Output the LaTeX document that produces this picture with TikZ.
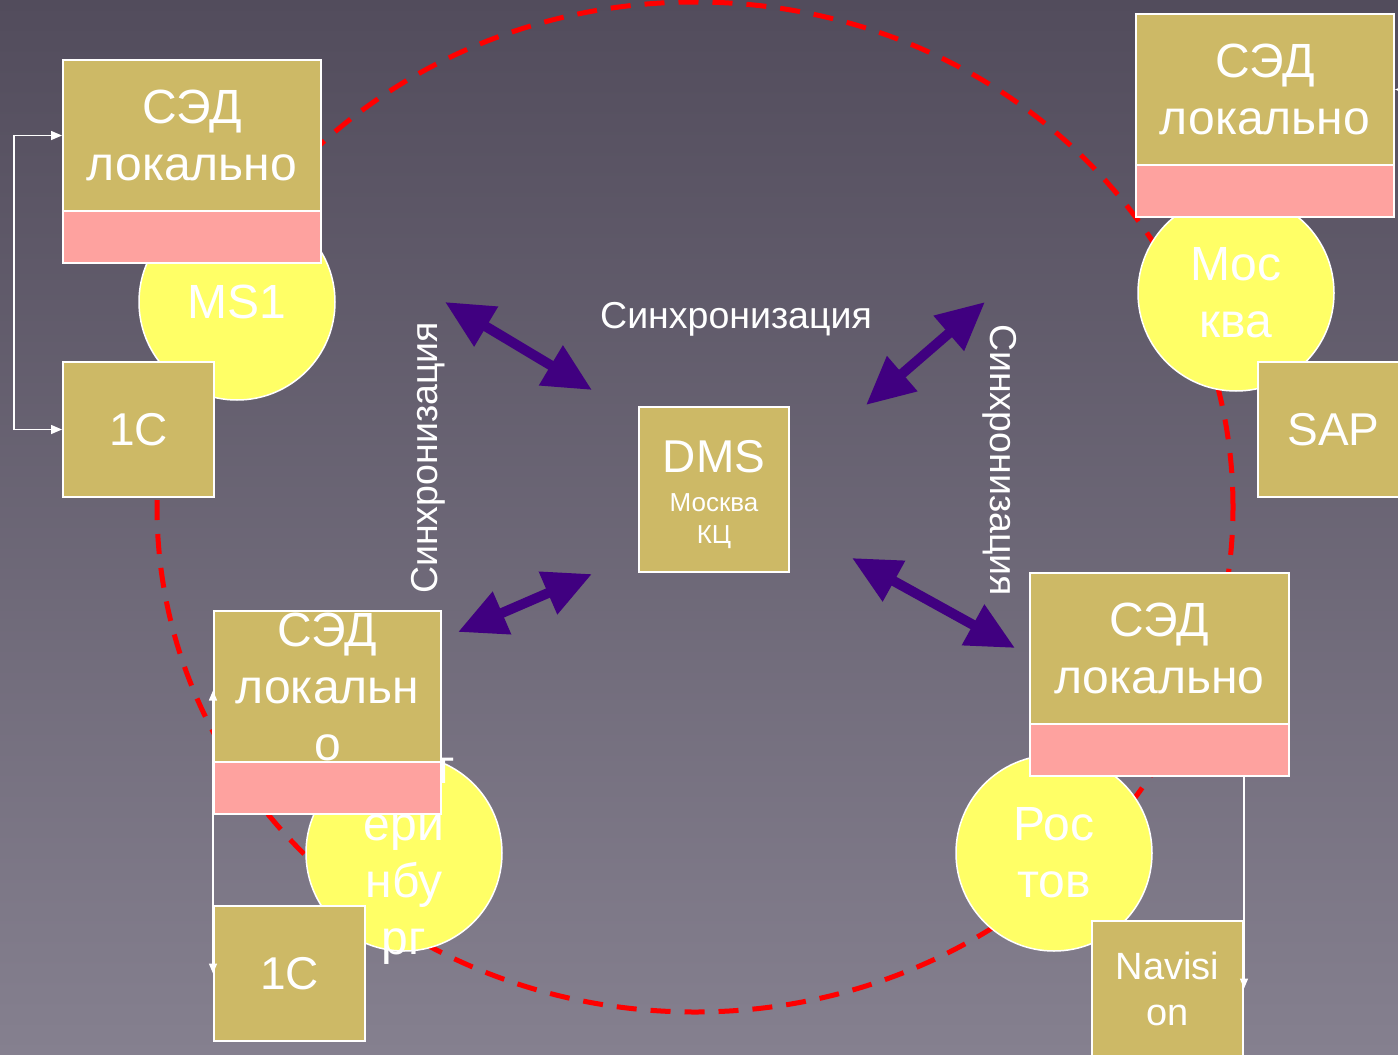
\documentclass[tikz,border=0pt]{standalone}
\usepackage{fontspec}
\setmainfont{Liberation Sans}
\usetikzlibrary{arrows.meta}
\definecolor{tanc}{RGB}{205,185,102}
\definecolor{pinkc}{RGB}{254,162,159}
\definecolor{yelc}{RGB}{255,255,102}
\definecolor{arrc}{RGB}{64,0,128}
\definecolor{bgtop}{RGB}{82,76,92}
\definecolor{bgbot}{RGB}{133,128,143}
\newcommand\fbig{\fontsize{48}{57}\selectfont}
\newcommand\fone{\fontsize{46}{52}\selectfont}
\newcommand\fsync{\fontsize{37.5}{42}\selectfont}
\newcommand\fnav{\fontsize{38}{46}\selectfont}
\newcommand\fsmall{\fontsize{26}{32}\selectfont}
\begin{document}
\begin{tikzpicture}[x=1pt,y=-1pt,
  sedbox/.style={draw=white, line width=2pt, fill=tanc, text=white, inner sep=0pt,
    align=center, font=\fbig, minimum height=151pt},
  pinkbox/.style={draw=white, line width=2pt, fill=pinkc, inner sep=0pt, minimum height=52pt},
  sysbox/.style={draw=white, line width=2pt, fill=tanc, text=white, inner sep=0pt,
    align=center, minimum width=151pt, minimum height=135pt},
  city/.style={circle, draw=white, line width=1.5pt, fill=yelc,
    minimum size=196pt, inner sep=0pt},
  citytext/.style={text=white, align=center, font=\fbig, inner sep=0pt},
  conn/.style={draw=white, line width=1.5pt},
  syncarrow/.style={draw=arrc, line width=10pt,
    {Triangle[length=48pt,width=44pt]}-{Triangle[length=48pt,width=44pt]}},
  synclabel/.style={text=white, font=\fsync, inner sep=0pt}
]
\useasboundingbox (0,0) rectangle (1398,1055);
\begin{scope}
\clip (0,0) rectangle (1398,1055);
\shade[top color=bgtop, bottom color=bgbot] (0,0) rectangle (1398,1055);

% dashed ring
\draw[red, line width=5pt, dash pattern=on 20pt off 14pt] (695,507) ellipse [x radius=538pt, y radius=505pt];

% city circles
\node[city, label={[citytext]center:MS1}] (ms1) at (237,302) {};
\node[city, label={[citytext]center:Мос\\ква}] (msk) at (1236,293) {};
\node[city, label={[citytext, yshift=-4pt]center:Екат\\ери\\нбу\\рг}] (ekb) at (404,853) {};
\node[city, label={[citytext]center:Рос\\тов}] (rst) at (1054,853) {};

% top-left group
\node[sedbox, minimum width=258pt] (sedA) at (192,135.5) {СЭД\\локально};
\node[pinkbox, minimum width=258pt] (pinkA) at (192,237) {};
\node[sysbox, font=\fone] (oneA) at (138.5,429.5) {1C};

% top-right group
\node[sedbox, minimum width=258pt] (sedB) at (1265,89.5) {СЭД\\локально};
\node[pinkbox, minimum width=258pt] (pinkB) at (1265,191) {};
\node[sysbox, font=\fone] (sap) at (1333.5,429.5) {SAP};

% bottom-left group
\node[sedbox, minimum width=227pt] (sedC) at (327.5,686.5) {СЭД\\локальн\\о};
\node[pinkbox, minimum width=227pt] (pinkC) at (327.5,788) {};
\node[sysbox, font=\fone] (oneC) at (289.5,973.5) {1C};

% bottom-right group
\node[sedbox, minimum width=259pt] (sedD) at (1159.5,648.5) {СЭД\\локально};
\node[pinkbox, minimum width=259pt] (pinkD) at (1159.5,750) {};
\node[sysbox, font=\fnav] (navi) at (1167.5,988.5) {Navisi\\on};

% centre
\node[sysbox, minimum width=150pt, minimum height=165pt] (dms) at (714,489.5) {};
\node[text=white, align=center, inner sep=0pt, font=\fsmall, yshift=-5pt] (dmstext) at (dms.center)
  {{\fontsize{46}{50}\selectfont DMS}\\[7pt]Москва\\КЦ};

% white connectors
\draw[conn, {Triangle[length=11pt,width=9pt]}-{Triangle[length=11pt,width=9pt]}]
  (sedA.west) -- ++(-48,0) |- (oneA.west);
\draw[conn, {Triangle[length=11pt,width=9pt]}-{Triangle[length=11pt,width=9pt]}]
  (sedB.east) -- ++(48,0) |- (sap.east);
\draw[conn, {Triangle[length=10pt,width=8pt]}-{Triangle[length=10pt,width=8pt]}]
  ([yshift=-4pt]sedC.west) -- (oneC.west);
\draw[conn, -{Triangle[length=10pt,width=8pt]}]
  (pinkD.south -| navi.east) -- (navi.east);

% synchronisation arrows
\coordinate (a1s) at (445,302); \coordinate (a1e) at (592,390);
\coordinate (a2s) at (985,302); \coordinate (a2e) at (866,405);
\coordinate (a3s) at (458,632); \coordinate (a3e) at (592,574);
\coordinate (a4s) at (852,558); \coordinate (a4e) at (1015,648);
\draw[syncarrow] (a1s) -- (a1e);
\draw[syncarrow] (a2s) -- (a2e);
\draw[syncarrow] (a3s) -- (a3e);
\draw[syncarrow] (a4s) -- (a4e);

% labels
\node[synclabel] (lblTop) at (736,319) {Синхронизация};
\node[synclabel, rotate=90] (lblLeft) at (428,458) {Синхронизация};
\node[synclabel, rotate=-90] (lblRight) at (1000,460) {Синхронизация};
\end{scope}
\end{tikzpicture}
\end{document}
